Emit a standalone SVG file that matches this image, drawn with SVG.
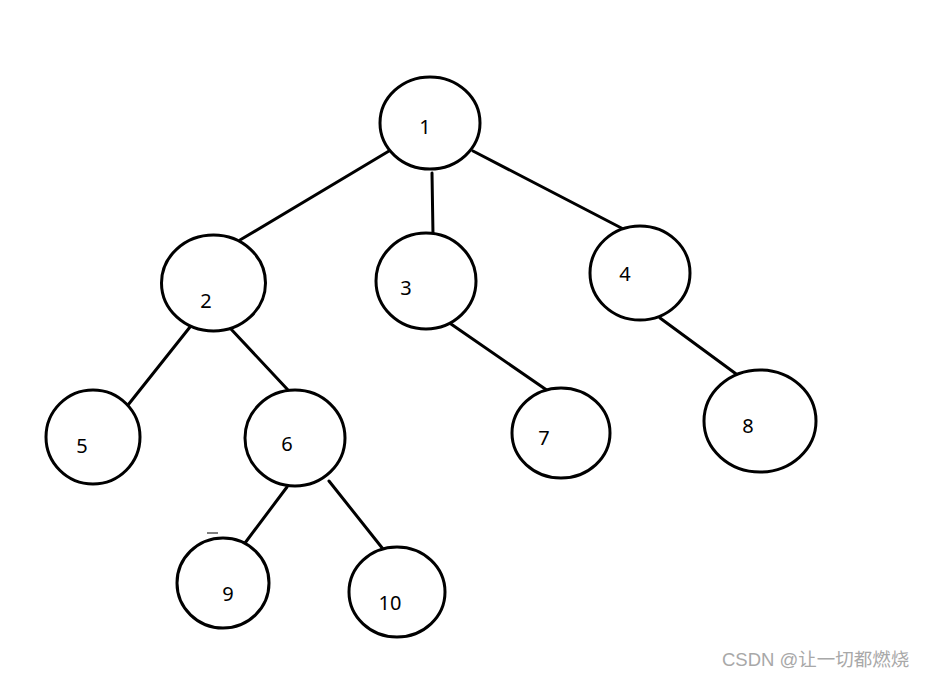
<svg xmlns="http://www.w3.org/2000/svg" width="929" height="678" viewBox="0 0 929 678">
<style>
.n{fill:#fff;stroke:#000;stroke-width:3}
.t{font-family:"Noto Sans","Liberation Sans",sans-serif;font-size:20px;fill:#000;text-anchor:middle;dominant-baseline:central}
.e{stroke:#000;stroke-width:3;fill:none;stroke-linecap:round}
.w{font-family:"Liberation Sans","Noto Sans CJK SC",sans-serif;font-size:18.5px;fill:#a8a8a8}
</style>
<rect width="929" height="678" fill="#fff"/>
<g id="connectors">
<line class="e" x1="389" y1="151" x2="240" y2="240"/>
<line class="e" x1="432" y1="173" x2="433" y2="235"/>
<line class="e" x1="473" y1="151" x2="631" y2="233"/>
<line class="e" x1="190" y1="327" x2="128" y2="405"/>
<line class="e" x1="230" y1="328" x2="288" y2="390"/>
<line class="e" x1="451" y1="324" x2="551" y2="393"/>
<line class="e" x1="660" y1="318" x2="743" y2="379"/>
<line class="e" x1="287" y1="487" x2="245" y2="543"/>
<line class="e" x1="329" y1="481" x2="383" y2="549"/>
</g>
<g id="n1"><ellipse class="n" cx="430" cy="123" rx="50" ry="46"/><text class="t" x="425" y="126">1</text></g>
<g id="n2"><ellipse class="n" cx="213.5" cy="283" rx="52" ry="48"/><text class="t" x="206" y="300">2</text></g>
<g id="n3"><ellipse class="n" cx="426" cy="281" rx="50" ry="48"/><text class="t" x="406" y="287">3</text></g>
<g id="n4"><ellipse class="n" cx="640" cy="273" rx="50" ry="47"/><text class="t" x="625" y="273">4</text></g>
<g id="n5"><ellipse class="n" cx="93" cy="437" rx="47" ry="47"/><text class="t" x="82" y="445">5</text></g>
<g id="n6"><ellipse class="n" cx="295" cy="438" rx="50" ry="48"/><text class="t" x="287" y="443">6</text></g>
<g id="n7"><ellipse class="n" cx="561" cy="433" rx="49" ry="45"/><text class="t" x="544" y="437">7</text></g>
<g id="n8"><ellipse class="n" cx="760" cy="421" rx="56" ry="51"/><text class="t" x="748" y="425">8</text></g>
<g id="n9"><ellipse class="n" cx="223" cy="583" rx="46" ry="45"/><text class="t" x="228" y="593">9</text><line x1="207" y1="533" x2="218" y2="533" stroke="#000" stroke-width="1"/></g>
<g id="n10"><ellipse class="n" cx="397" cy="592" rx="48" ry="45"/><text class="t" x="390" y="602">10</text></g>
<text class="w" x="722" y="666">CSDN @让一切都燃烧</text>
</svg>
